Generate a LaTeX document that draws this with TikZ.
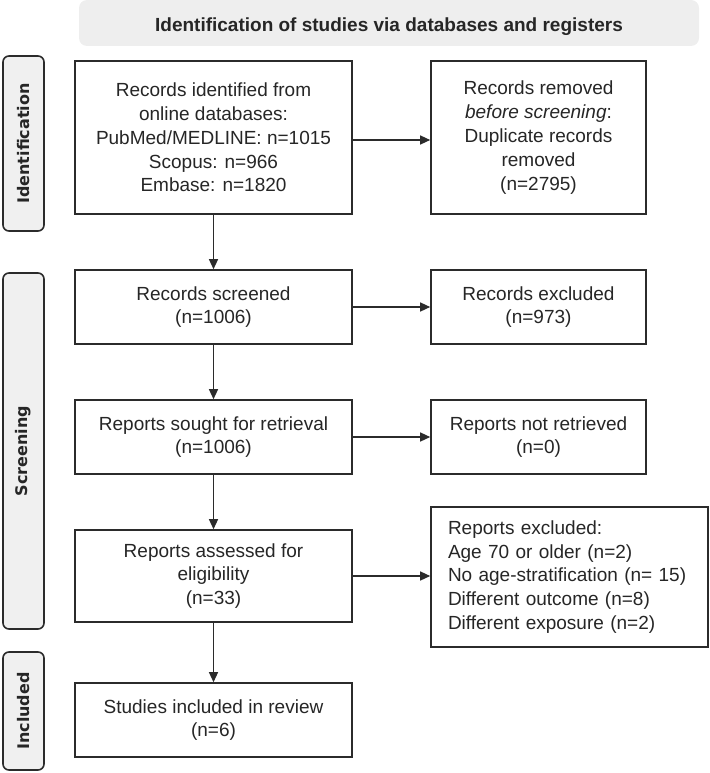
\documentclass[tikz,border=0pt]{standalone}
\usepackage{fontspec}
\setmainfont{Liberation Sans}
\newfontfamily\sidefont{DejaVu Sans}
\usetikzlibrary{arrows.meta}

\definecolor{boxline}{HTML}{2B2B2B}
\definecolor{headfill}{HTML}{EEEEEE}
\definecolor{sidefill}{HTML}{F0F0F0}

\tikzset{
	stage/.style={draw=boxline, line width=1.6pt, fill=white, text=black!85, align=center,
		inner sep=0pt, minimum width=277pt, font=\fontsize{19}{23.8}\selectfont},
	phase/.style={draw=boxline, line width=1.6pt, fill=sidefill, rounded corners=6pt, rotate=90,
		minimum height=41pt, inner sep=0pt, text=black!85, font=\sidefont\bfseries\fontsize{16}{19}\selectfont},
	flow/.style={draw=boxline, line width=1.3pt, -{Triangle[length=10pt,width=9pt]}}
}

\begin{document}
\begin{tikzpicture}[x=1pt,y=-1pt]

	\useasboundingbox (0,0) rectangle (709,773);

	% header and phases
	\node[fill=headfill, rounded corners=8pt, minimum width=620pt, minimum height=46pt, text=black!85,
		text height=17pt, text depth=0pt,
		font=\bfseries\fontsize{19}{23}\selectfont] (head) at (389,23) {Identification of studies via databases and registers};

	\node[phase, minimum width=175pt] (ident) at (23.5,143.5) {Identification};
	\node[phase, minimum width=356pt] (screen) at (23.5,451) {Screening};
	\node[phase, minimum width=118pt] (incl) at (23.5,711) {Included};

	% left column
	\node[stage, minimum height=153pt] (found) at (213.5,137.5) {Records identified from\\online databases:\\PubMed/MEDLINE: n=1015\\Scopus: n=966\\Embase: n=1820};
	\node[stage, minimum height=74pt] (screened) at (213.5,307) {Records screened\\(n=1006)};
	\node[stage, minimum height=74pt] (sought) at (213.5,437) {Reports sought for retrieval\\(n=1006)};
	\node[stage, minimum height=92pt] (assessed) at (213.5,576) {Reports assessed for\\eligibility\\(n=33)};
	\node[stage, minimum height=74pt] (studies) at (213.5,720) {Studies included in review\\(n=6)};

	% right column
	\node[stage, minimum width=215pt, minimum height=153pt] (removed) at (538.5,137.5) {Records removed\\\textit{before screening}:\\Duplicate records\\removed\\(n=2795)};
	\node[stage, minimum width=215pt, minimum height=74pt] (excluded) at (538.5,307) {Records excluded\\(n=973)};
	\node[stage, minimum width=215pt, minimum height=74pt] (notret) at (538.5,437) {Reports not retrieved\\(n=0)};
	\node[stage, align=left, text width=243pt, inner xsep=17pt, minimum height=140pt] (reasons) at (569.5,577) {Reports excluded:\\Age 70 or older (n=2)\\No age-stratification (n= 15)\\Different outcome (n=8)\\Different exposure (n=2)};

	% arrows
	\draw[flow] (found) -- (screened);
	\draw[flow] (screened) -- (sought);
	\draw[flow] (sought) -- (assessed);
	\draw[flow] (assessed) -- (studies);

	\draw[flow] (found.east |- 0,140) -- (removed.west |- 0,140);
	\draw[flow] (screened) -- (excluded);
	\draw[flow] (sought) -- (notret);
	\draw[flow] (assessed.east) -- (assessed.east -| reasons.west);

\end{tikzpicture}
\end{document}
